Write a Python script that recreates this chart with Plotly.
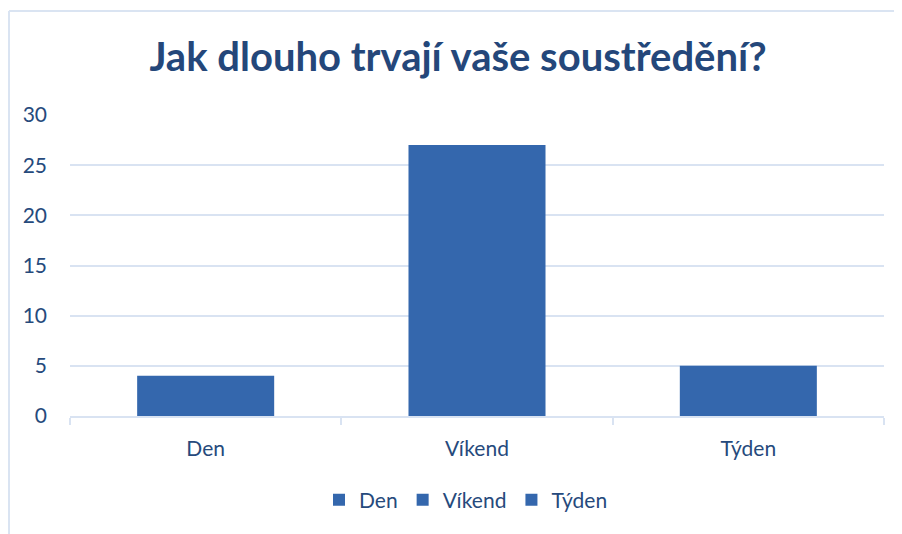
import plotly.graph_objects as go

categories = ["Den", "Víkend", "Týden"]
values = [4, 27, 5]
y_ticks = [0, 5, 10, 15, 20, 25, 30]
title_text = "Jak dlouho trvají vaše soustředění?"

text_color = "#264a7c"
grid_color = "#d9e3f2"
bar_color = "#3467ad"
font_family = "Lato, 'Open Sans', sans-serif"

fig = go.Figure()
for cat, val in zip(categories, values):
    fig.add_trace(go.Bar(
        x=[cat], y=[val], name=cat,
        marker=dict(color=bar_color, line=dict(width=0)),
        width=0.505,
    ))

# page body has an 8px default margin; shift the figure accordingly
OFF = 8
W, H = 902, 534
ml = 70 - OFF
mt = 115 - OFF
mr = W - (884 - OFF)
mb = H - (416 - OFF)
pw, ph = W - ml - mr, H - mt - mb


def px_x(p):
    return (p - OFF - ml) / pw


def px_y(p):
    return (H - mb - (p - OFF)) / ph


fig.update_layout(
    width=W, height=H,
    margin=dict(l=ml, r=mr, t=mt, b=mb, pad=0),
    paper_bgcolor="white", plot_bgcolor="white",
    barmode="overlay",
    font=dict(family=font_family, color=text_color, size=21),
    title=dict(
        text="<b>" + title_text + "</b>",
        font=dict(family=font_family, size=40, color="#24477a"),
        x=(458 - OFF) / W, xanchor="center", xref="container",
        y=1 - (57 - OFF) / H, yanchor="middle", yref="container",
    ),
    xaxis=dict(
        type="category", categoryorder="array", categoryarray=categories,
        showgrid=False, showline=True, linecolor=grid_color, linewidth=2,
        ticks="outside", tickson="boundaries", ticklen=7, tickcolor=grid_color, tickwidth=2,
        ticklabelstandoff=13,
        tickfont=dict(size=21, color=text_color), fixedrange=True,
    ),
    yaxis=dict(
        range=[0, 30], tickvals=y_ticks, showgrid=True, gridcolor=grid_color, gridwidth=2,
        zeroline=False, showline=False, ticks="", ticklabelstandoff=22,
        tickfont=dict(size=21, color=text_color), fixedrange=True,
    ),
    legend=dict(
        orientation="h", x=px_x(466), xanchor="center", y=px_y(500), yanchor="middle",
        font=dict(size=21, color=text_color), itemsizing="constant",
        traceorder="normal", bgcolor="rgba(0,0,0,0)", itemwidth=30,
    ),
    showlegend=True,
    shapes=[
        dict(type="line", xref="paper", yref="paper",
             x0=px_x(9), x1=px_x(9), y0=px_y(545), y1=px_y(11),
             line=dict(color="#dae4f2", width=2)),
        dict(type="line", xref="paper", yref="paper",
             x0=px_x(9), x1=px_x(915), y0=px_y(11), y1=px_y(11),
             line=dict(color="#dae4f2", width=2)),
    ],
)

fig.write_html("out.html")
